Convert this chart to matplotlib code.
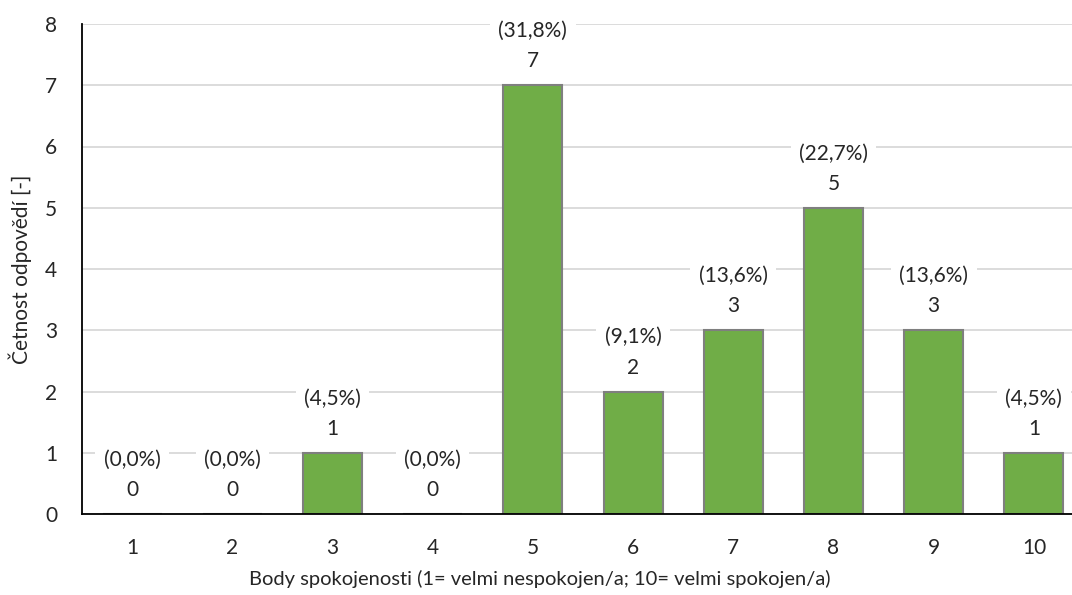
import matplotlib.pyplot as plt

# satisfaction scores and response counts
body = [1, 2, 3, 4, 5, 6, 7, 8, 9, 10]
cetnost = [0, 0, 1, 0, 7, 2, 3, 5, 3, 1]
procenta = ["0,0%", "0,0%", "4,5%", "0,0%", "31,8%", "9,1%", "13,6%", "22,7%", "13,6%", "4,5%"]

plt.rcParams['font.family'] = ['Lato', 'DejaVu Sans']
plt.rcParams['font.size'] = 15

fig = plt.figure(figsize=(10.72, 5.95), dpi=100)
ax = fig.add_axes([82 / 1072, 81 / 595, 1002 / 1072, 490 / 595])

ax.bar(body, cetnost, width=0.59, color="#70AD47", edgecolor="#7F7F7F",
       linewidth=1.5, zorder=3)

for x, y, p in zip(body, cetnost, procenta):
    ax.annotate("(%s)\n%d" % (p, y), xy=(x, y), xytext=(0, 10),
                textcoords="offset points", ha="center", va="bottom",
                linespacing=1.65, color="#262626", zorder=4,
                bbox=dict(boxstyle="square,pad=0.4", fc="white", ec="none"))

ax.set_xlim(0.5, 10.5)
ax.set_ylim(0, 8)
ax.set_xticks(body)
ax.set_yticks(range(0, 9))
ax.tick_params(length=0, colors="#262626")
ax.tick_params(axis="x", pad=17)
ax.tick_params(axis="y", pad=18)
ax.grid(axis="y", color="#D9D9D9", linewidth=1.3, zorder=0)
ax.set_axisbelow(True)

for s in ["top", "right"]:
    ax.spines[s].set_visible(False)
for s in ["left", "bottom"]:
    ax.spines[s].set_color("black")
    ax.spines[s].set_linewidth(1.3)
    ax.spines[s].set_zorder(5)

ax.set_ylabel("Četnost odpovědí [-]", color="#262626")
ax.yaxis.set_label_coords(-50 / 1002, 0.5)
ax.set_xlabel("Body spokojenosti (1= velmi nespokojen/a; 10= velmi spokojen/a)",
              color="#262626", fontsize=14.5)
ax.xaxis.set_label_coords((540 - 82) / 1002, -0.115)

plt.savefig("out.png", dpi=100)
